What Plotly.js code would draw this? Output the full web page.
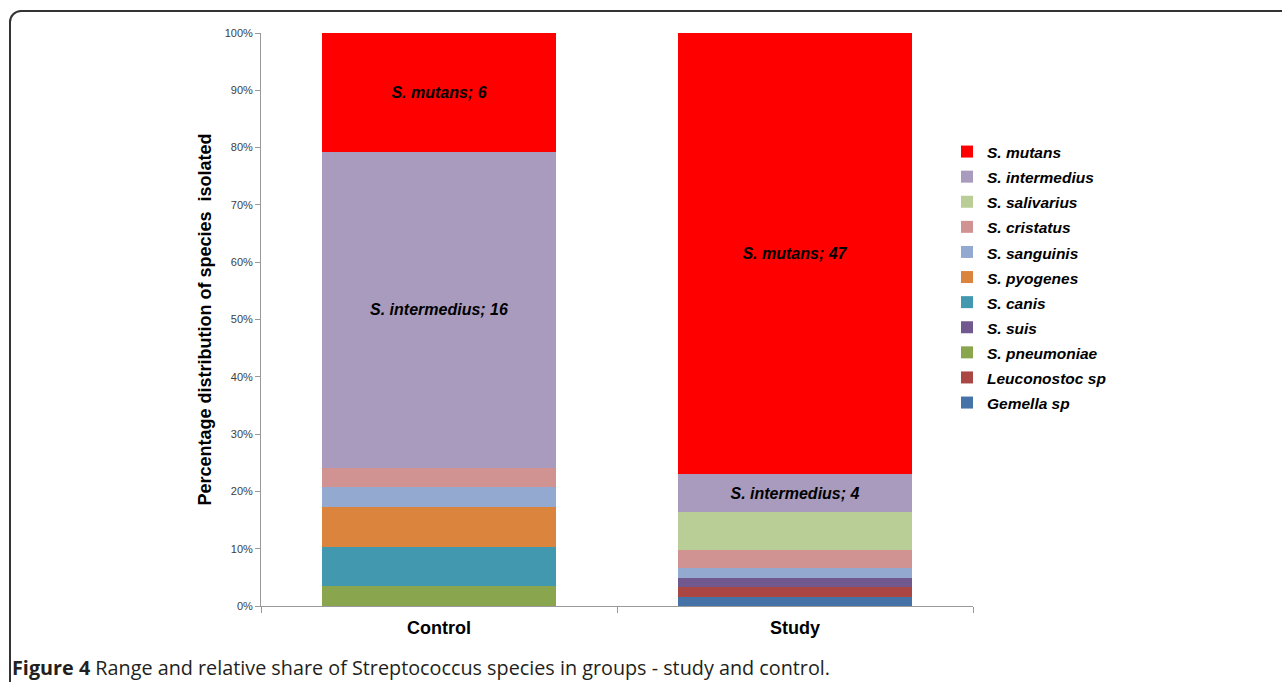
<!DOCTYPE html>
<html>
<head>
<meta charset="utf-8">
<script src="https://cdn.plot.ly/plotly-3.0.1.min.js"></script>
<style>
html,body{margin:0;padding:0;background:#fff;overflow:hidden;}
#chart{width:1282px;height:682px;position:absolute;left:0;top:0;}
#frame{position:absolute;left:9px;top:10px;width:1300px;height:700px;border:2px solid #333;border-radius:12px;pointer-events:none;box-sizing:border-box;}
</style>
</head>
<body>
<div id="chart"></div>
<div id="frame"></div>
<script>
var groups = ['Control', 'Study'];
var species = ['Gemella sp', 'Leuconostoc sp', 'S. pneumoniae', 'S. suis', 'S. canis', 'S. pyogenes', 'S. sanguinis', 'S. cristatus', 'S. salivarius', 'S. intermedius', 'S. mutans'];
var controlCounts = [0, 0, 1, 0, 2, 2, 1, 1, 0, 16, 6];
var studyCounts   = [1, 1, 0, 1, 0, 0, 1, 2, 4, 4, 47];
var colors = ['#4572A7', '#AA4643', '#89A54E', '#71588F', '#4298AF', '#DB843D', '#93A9CF', '#D19392', '#B9CD96', '#A99BBD', '#FF0000'];
var labelled = ['S. intermedius', 'S. mutans'];

var traces = species.map(function(name, i){
  var vals = [controlCounts[i], studyCounts[i]];
  var txt = vals.map(function(v){ return labelled.indexOf(name) >= 0 ? name + '; ' + v : ''; });
  return {
    type: 'bar', name: '<span style="font-size:15.5px">' + name + '</span>', x: groups, y: vals,
    marker: {color: colors[i], line: {width: 0}},
    text: txt, textposition: 'inside', insidetextanchor: 'middle', textangle: 0,
    constraintext: 'none',
    textfont: {family: 'Liberation Sans, Arial, sans-serif', size: 16, color: '#000', weight: 'bold', style: 'italic'},
    hoverinfo: 'y'
  };
});

var L = 261, R = 973, T = 33, B = 606;
var layout = {
  width: 1282, height: 682,
  margin: {l: L, r: 1282 - R, t: T, b: 682 - B},
  paper_bgcolor: 'rgba(0,0,0,0)', plot_bgcolor: 'rgba(0,0,0,0)',
  barmode: 'stack', barnorm: 'percent', bargap: 0.345,
  showlegend: true,
  legend: {
    x: (947 - L) / (R - L), y: (B - 134) / (B - T), xanchor: 'left', yanchor: 'top',
    traceorder: 'reversed',
    font: {family: 'Liberation Sans, Arial, sans-serif', size: 17, color: '#000', weight: 'bold', style: 'italic'},
    itemwidth: 30, bgcolor: 'rgba(0,0,0,0)'
  },
  xaxis: {
    showline: true, linecolor: '#999', linewidth: 1,
    ticks: 'outside', tickson: 'boundaries', ticklen: 6, tickcolor: '#999',
    ticklabelstandoff: 5,
    tickfont: {family: 'Liberation Sans, Arial, sans-serif', size: 18, color: '#000', weight: 'bold'},
    showgrid: false, zeroline: false
  },
  yaxis: {
    range: [0, 100], dtick: 10, ticksuffix: '%',
    showline: true, linecolor: '#999', linewidth: 1,
    ticks: 'outside', ticklen: 5, tickcolor: '#999',
    tickfont: {family: 'Liberation Sans, Arial, sans-serif', size: 11, color: '#404040'},
    showgrid: false, zeroline: false,
    title: {text: 'Percentage distribution of species  isolated', standoff: 8,
      font: {family: 'Liberation Sans, Arial, sans-serif', size: 18, color: '#000', weight: 'bold'}}
  },
  annotations: [{
    xref: 'paper', yref: 'paper', x: (10 - L) / (R - L), y: (B - 667) / (B - T),
    xanchor: 'left', yanchor: 'middle', showarrow: false,
    text: '<b>Figure 4</b> Range and relative share of Streptococcus species in groups - study and control.',
    font: {family: 'Open Sans, sans-serif', size: 19.8, color: '#231f20'}
  }]
};

Plotly.newPlot('chart', traces, layout, {displayModeBar: false, staticPlot: true});
</script>
</body>
</html>
